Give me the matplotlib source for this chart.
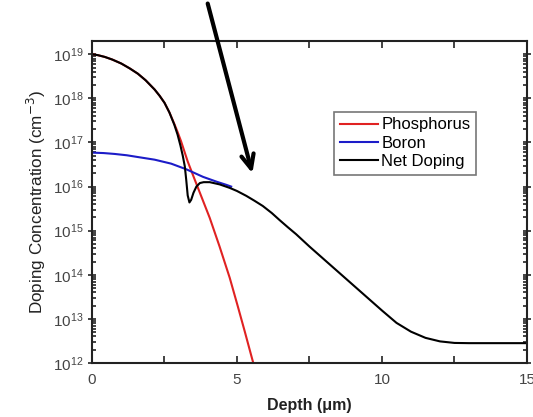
import numpy as np
import matplotlib
matplotlib.use("Agg")
import matplotlib.pyplot as plt
from matplotlib.ticker import LogLocator, FixedLocator, NullFormatter

plt.rcParams['font.family'] = ['Liberation Sans', 'DejaVu Sans']

# Data (depth in um, log10 of concentration in cm^-3)
p_depth = [0.0, 0.2, 0.44, 0.7, 1.01, 1.3, 1.58, 1.85, 2.16, 2.33, 2.50, 2.67, 2.84, 2.95, 3.07,
           3.30, 3.50, 3.72, 4.06, 4.40, 4.75, 5.03, 5.27, 5.52, 5.75]
p_log = [19.0, 18.98, 18.94, 18.88, 18.79, 18.68, 18.56, 18.41, 18.20, 18.06, 17.90, 17.68, 17.42, 17.24, 17.03,
         16.57, 16.23, 15.86, 15.29, 14.64, 13.93, 13.28, 12.71, 12.10, 11.55]

b_depth = [0.0, 0.4, 0.78, 1.2, 1.58, 2.16, 2.73, 3.26, 3.83, 4.3, 4.63, 4.8]
b_log = [16.77, 16.76, 16.74, 16.71, 16.67, 16.61, 16.52, 16.39, 16.22, 16.11, 16.04, 16.0]

n_depth = [0.0, 0.2, 0.44, 0.7, 1.01, 1.3, 1.58, 1.85, 2.16, 2.33, 2.50, 2.67, 2.84, 2.95, 3.05, 3.13,
           3.20, 3.25, 3.30, 3.36, 3.42, 3.50, 3.60, 3.72, 3.85, 4.06, 4.40, 4.75, 5.0, 5.32, 5.6, 5.89,
           6.2, 6.47, 6.75, 7.04, 7.5, 8.0, 8.5, 9.0, 9.5, 10.0, 10.5, 11.0, 11.5, 12.0, 12.5, 13.0, 15.0]
n_log = [19.0, 18.98, 18.94, 18.88, 18.79, 18.68, 18.56, 18.41, 18.20, 18.06, 17.90, 17.68, 17.40, 17.18, 16.93, 16.70,
         16.46, 16.15, 15.80, 15.64, 15.70, 15.86, 16.0, 16.08, 16.10, 16.10, 16.05, 15.97, 15.9, 15.79, 15.68, 15.56,
         15.40, 15.24, 15.08, 14.92, 14.64, 14.35, 14.06, 13.77, 13.48, 13.19, 12.91, 12.71, 12.57, 12.49, 12.455, 12.45, 12.45]

labels = ["Phosphorus", "Boron", "Net Doping"]
colors = ["#e02222", "#1c1cc8", "#000000"]

fig = plt.figure(figsize=(5.33, 4.17), dpi=100)
ax = fig.add_axes([0.1726, 0.1295, 0.8161, 0.7722])

ax.plot(p_depth, 10 ** np.array(p_log), color=colors[0], lw=1.5, label=labels[0])
ax.plot(b_depth, 10 ** np.array(b_log), color=colors[1], lw=1.5, label=labels[1])
ax.plot(n_depth, 10 ** np.array(n_log), color=colors[2], lw=1.5, label=labels[2])

ax.set_yscale('log')
ax.set_xlim(0, 15)
ax.set_ylim(1e12, 2e19)

ax.xaxis.set_major_locator(FixedLocator([0, 5, 10, 15]))
ax.xaxis.set_minor_locator(FixedLocator([2.5, 7.5, 12.5]))
ax.yaxis.set_major_locator(LogLocator(base=10, numticks=20))
ax.yaxis.set_minor_locator(LogLocator(base=10, subs=np.arange(2, 10), numticks=200))
ax.yaxis.set_minor_formatter(NullFormatter())

ax.tick_params(axis='both', which='both', direction='in', top=True, right=True,
               labelsize=11, colors='#222222', labelcolor='#444444', width=1.2)
ax.tick_params(axis='x', which='both', length=5)
ax.tick_params(axis='x', which='major', pad=7)
ax.tick_params(axis='y', which='major', length=6, direction='inout', pad=3)
ax.tick_params(axis='y', which='minor', length=3)
for s in ax.spines.values():
    s.set_linewidth(1.5)
    s.set_color('#222222')

ax.set_xlabel("Depth (μm)", fontsize=11.5, fontweight='bold', color='#222222', labelpad=8)
ax.set_ylabel("Doping Concentration (cm$^{-3}$)", fontsize=12.3, color='#222222', labelpad=4)

leg = ax.legend(loc='upper left', bbox_to_anchor=(0.556, 0.781), fontsize=12, frameon=True,
                fancybox=False, edgecolor='#555555', handlelength=2.3, handletextpad=0.2,
                labelspacing=0.2, borderpad=0.35, borderaxespad=0)
leg.get_frame().set_linewidth(1.2)

ax.annotate("", xy=(5.53, 10 ** 16.3), xytext=(3.99, 10 ** 20.15), xycoords='data',
            textcoords='data', annotation_clip=False,
            arrowprops=dict(arrowstyle='->,head_length=1.0,head_width=0.45', lw=3, color='black',
                            shrinkA=0, shrinkB=0))

fig.savefig("out.png", dpi=100)
